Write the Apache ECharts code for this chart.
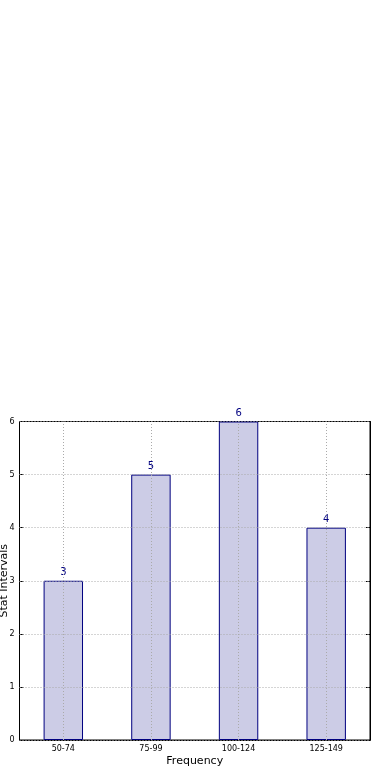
<!DOCTYPE html>
<html><head><meta charset="utf-8">
<script src="https://cdn.jsdelivr.net/npm/echarts@6/dist/echarts.min.js"></script>
<style>html,body{margin:0;padding:0;background:#fff}#c{width:390px;height:780px}</style>
</head><body><div id="c"></div>
<script>
const categories = ['50-74', '75-99', '100-124', '125-149'];
const counts = [3, 5, 6, 4];
const yTicks = [0, 1, 2, 3, 4, 5, 6];
const xTitle = 'Frequency';
const yTitle = 'Stat Intervals';

const chart = echarts.init(document.getElementById('c'), null, {renderer: 'canvas'});
const font = 'DejaVu Sans';
const gridLine = {color: '#aaa', type: [1, 2], width: 1};
chart.setOption({
  animation: false,
  grid: {left: 19.5, right: 20, top: 421.5, bottom: 40, containLabel: false, outerBoundsMode: 'none',
         show: true, borderColor: '#000', borderWidth: 1, backgroundColor: 'transparent'},
  xAxis: [{
    type: 'category', data: categories, position: 'bottom',
    axisLine: {lineStyle: {color: '#000', width: 1}},
    axisTick: {inside: true, length: 4, alignWithLabel: true, lineStyle: {color: '#000'}},
    axisLabel: {fontFamily: font, fontSize: 8, color: '#000', margin: 5},
    splitLine: {show: false},
    name: xTitle, nameLocation: 'middle', nameGap: 16, nameMoveOverlap: false,
    nameTextStyle: {fontFamily: font, fontSize: 11, color: '#000'}
  }, {
    type: 'category', data: categories, position: 'top',
    axisLine: {lineStyle: {color: '#000', width: 1}},
    axisTick: {inside: true, length: 4, alignWithLabel: true, lineStyle: {color: '#000'}},
    axisLabel: {show: false}, splitLine: {show: false}
  }],
  yAxis: [{
    type: 'value', min: 0, max: 6, interval: 1, position: 'left',
    axisLine: {show: true, lineStyle: {color: '#000', width: 1}},
    axisTick: {show: true, inside: true, length: 4, lineStyle: {color: '#000'}},
    axisLabel: {fontFamily: font, fontSize: 8, color: '#000', margin: 5},
    splitLine: {show: false},
    name: yTitle, nameLocation: 'middle', nameGap: 10, nameRotate: 90, nameMoveOverlap: false,
    nameTextStyle: {fontFamily: font, fontSize: 11, color: '#000'}
  }, {
    type: 'value', min: 0, max: 6, interval: 1, position: 'right',
    axisLine: {show: true, lineStyle: {color: '#000', width: 1}},
    axisTick: {show: true, inside: true, length: 4, lineStyle: {color: '#000'}},
    axisLabel: {show: false}, splitLine: {show: false}
  }],
  series: [{
    type: 'bar', data: counts, barWidth: '45%',
    itemStyle: {color: '#ccccE6', borderColor: '#000080', borderWidth: 1},
    label: {show: true, position: 'top', distance: 3, fontFamily: font, fontSize: 10, color: '#000080'},
    markLine: {
      silent: true, symbol: 'none', label: {show: false}, lineStyle: gridLine,
      data: yTicks.map(v => ({yAxis: v})).concat(categories.map(c => ({xAxis: c})))
    }
  }]
});
</script></body></html>
